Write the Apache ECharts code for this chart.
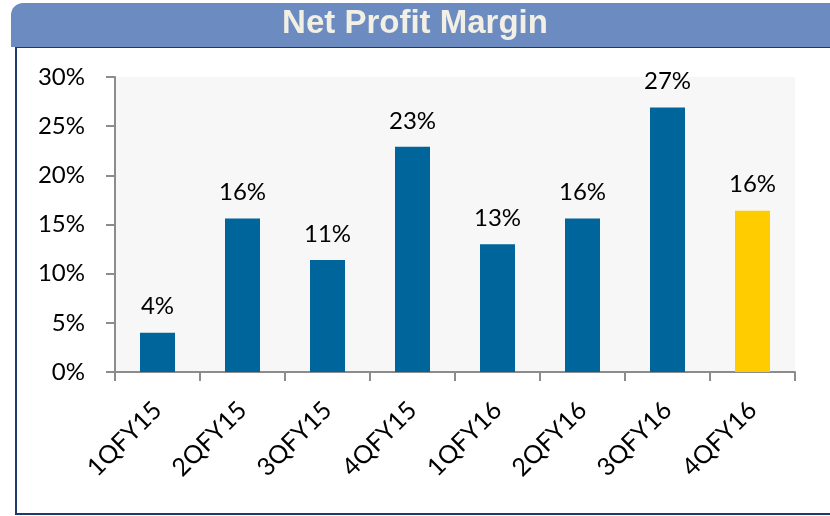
<!DOCTYPE html>
<html>
<head>
<meta charset="utf-8">
<script src="https://cdn.jsdelivr.net/npm/echarts@6/dist/echarts.min.js"></script>
<style>
  html, body { margin: 0; padding: 0; background: #fff; }
  #chart { width: 830px; height: 516px; }
</style>
</head>
<body>
<div id="chart"></div>
<script>
const quarters = ['1QFY15', '2QFY15', '3QFY15', '4QFY15', '1QFY16', '2QFY16', '3QFY16', '4QFY16'];
const margins = [4.0, 15.6, 11.4, 22.9, 13.0, 15.6, 26.9, 16.4];
const barColors = ['#00659b', '#00659b', '#00659b', '#00659b', '#00659b', '#00659b', '#00659b', '#ffcc00'];
const yTicks = [0, 5, 10, 15, 20, 25, 30];

const font = 'Lato, "Open Sans", sans-serif';

var myChart = echarts.init(document.getElementById('chart'));
myChart.setOption({
    animation: false,
    backgroundColor: '#fff',
    graphic: [
        // frame under the banner
        { type: 'rect', shape: { x: 16, y: 47, width: 830, height: 467 }, style: { fill: 'none', stroke: '#1d3a6c', lineWidth: 2 }, z: 0 },
        { type: 'rect', shape: { x: 11, y: 3, width: 840, height: 44, r: [12, 0, 0, 0] }, style: { fill: '#6c8bc1' }, z: 1 },
        {
            type: 'text', left: 'center', top: 7, z: 2,
            style: { text: 'Net Profit Margin', fill: '#f2efe4', font: 'bold 33px "Liberation Sans Narrow", "Liberation Sans", Arial, sans-serif' }
        }
    ],
    grid: {
        left: 115, right: 35, top: 77, bottom: 144,
        show: true, backgroundColor: '#f7f7f7', borderWidth: 0
    },
    xAxis: {
        type: 'category',
        data: quarters,
        axisLine: { lineStyle: { color: '#8c8c8c', width: 2 } },
        axisTick: { show: true, length: 9, lineStyle: { color: '#8c8c8c', width: 2 } },
        axisLabel: { rotate: 45, margin: 34, fontSize: 25, color: '#000', fontFamily: font }
    },
    yAxis: {
        type: 'value',
        min: yTicks[0], max: yTicks[yTicks.length - 1], interval: 5,
        axisLine: { show: true, lineStyle: { color: '#8c8c8c', width: 2 } },
        axisTick: { show: true, length: 9, lineStyle: { color: '#8c8c8c', width: 2 } },
        splitLine: { show: false },
        axisLabel: { formatter: '{value}%', margin: 30, fontSize: 24, color: '#000', fontFamily: font }
    },
    series: [{
        type: 'bar',
        barWidth: 35,
        data: margins.map((v, i) => ({ value: v, itemStyle: { color: barColors[i] } })),
        label: {
            show: true, position: 'top', distance: 14,
            fontSize: 24, color: '#000', fontFamily: font,
            formatter: p => Math.round(p.value) + '%'
        }
    }]
});
</script>
</body>
</html>
